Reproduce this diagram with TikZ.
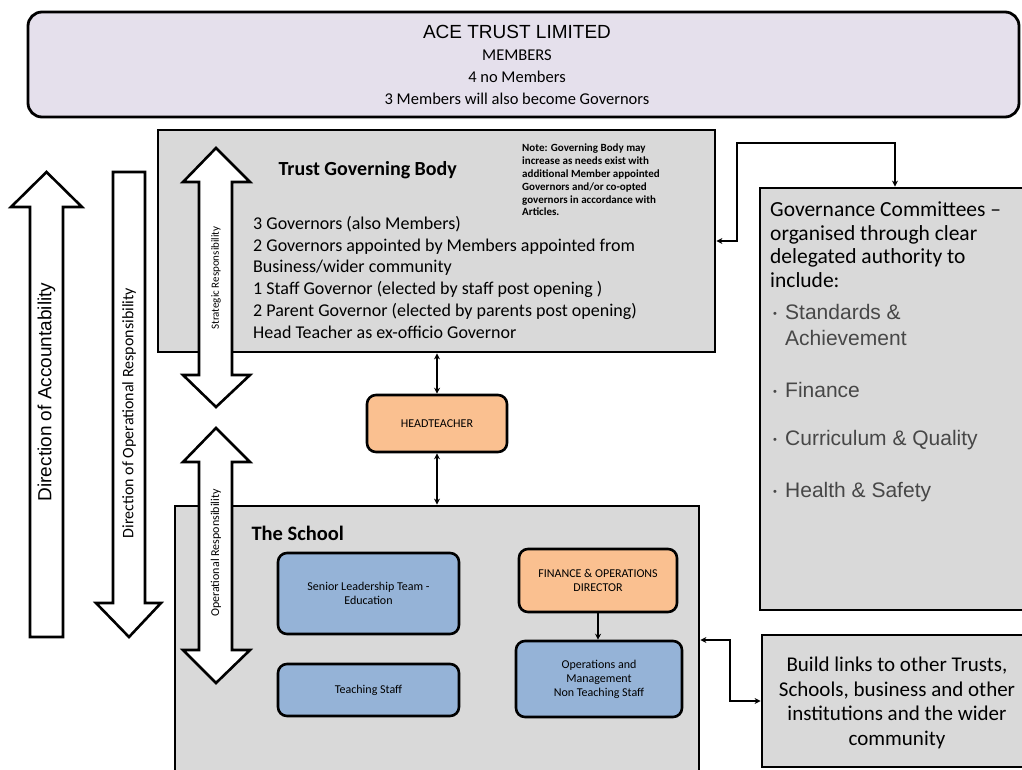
\documentclass[tikz,border=0pt]{standalone}
\usepackage{fontspec}
\setmainfont{Carlito}
\newfontfamily\arialfont{Liberation Sans}
\usetikzlibrary{arrows.meta,fit,positioning}
\definecolor{boxgray}{HTML}{D9D9D9}
\definecolor{lilac}{HTML}{E5E0EC}
\definecolor{peach}{HTML}{FAC090}
\definecolor{paleblue}{HTML}{95B3D7}
\newcommand{\fsz}[2]{\fontsize{#1}{#2}\selectfont}
\tikzset{
	panel/.style={draw, line width=2.8pt, fill=boxgray, inner sep=0pt},
	card/.style={draw, line width=2.6pt, rounded corners=9pt, align=center, font=\fsz{12}{14}},
	bigarrow/.style={draw, line width=2.6pt, fill=white, line join=miter},
	bulletline/.style={anchor=west, inner sep=0pt, font=\arialfont\fsz{21}{26}, text=black!72},
	link/.style={line width=1.6pt, {Stealth[length=6pt,width=6pt]}-{Stealth[length=6pt,width=6pt]}}
}

\begin{document}
\begin{tikzpicture}[x=1pt, y=-1pt]
        \useasboundingbox (0,0) rectangle (1022,769);
        \node[draw, line width=2.8pt, fill=lilac, rounded corners=14pt, inner sep=0pt, fit={(28,12) (1019,117)}] (members) {};
        \node[align=center, font=\fsz{16.5}{22}] (memtxt) at (517,65) {{\arialfont\fsz{19}{22}ACE TRUST LIMITED}\\MEMBERS\\4 no Members\\3 Members will also become Governors};
        \node[panel, fit={(158,130) (715,352)}] (tgb) {};
        \node[anchor=west, font=\bfseries\fsz{20}{24}] (tgbtitle) at (275,170) {Trust Governing Body};
        \node[anchor=north west, inner sep=0pt, align=left, font=\bfseries\fsz{11}{12.8}] (note) at (522,144) {Note: Governing Body may\\increase as needs exist with\\additional Member appointed\\Governors and/or co-opted\\governors in accordance with\\Articles.};
        \node[anchor=north west, inner sep=0pt, align=left, font=\fsz{18}{21.8}] (tgbtxt) at (253,216) {3 Governors (also Members)\\2 Governors appointed by Members appointed from\\Business/wider community\\1 Staff Governor (elected by staff post opening )\\2 Parent Governor (elected by parents post opening)\\Head Teacher as ex-officio Governor};
        \node[panel, fit={(760,188) (1030,610)}] (gov) {};
        \node[anchor=north west, inner sep=0pt, align=left, font=\fsz{21.5}{23.5}] (govtxt) at (770,202) {Governance Committees –\\organised through clear\\delegated authority to\\include:};
        \node[bulletline] (bstd) at (773,312) {\makebox[12pt][l]{\raisebox{2pt}{\fsz{11}{11}•}}Standards \&};
        \node[bulletline] (bach) at (785,338) {Achievement};
        \node[bulletline] (bfin) at (773,390) {\makebox[12pt][l]{\raisebox{2pt}{\fsz{11}{11}•}}Finance};
        \node[bulletline] (bcur) at (773,440) {\makebox[12pt][l]{\raisebox{2pt}{\fsz{11}{11}•}}Curriculum \& Quality};
        \node[bulletline] (bhs) at (773,492) {\makebox[12pt][l]{\raisebox{2pt}{\fsz{11}{11}•}}Health \& Safety};
        \node[panel, fit={(762,635) (1030,767)}] (links) {};
        \node[align=center, font=\fsz{21}{24.5}] (linkstxt) at (897,703) {Build links to other Trusts,\\Schools, business and other\\institutions and the wider\\community};
        \node[card, fill=peach, minimum width=140pt, minimum height=57pt] (ht) at (437,423.5) {HEADTEACHER};
        \node[panel, fit={(175,506) (699,790)}] (school) {};
        \node[anchor=west, font=\bfseries\fsz{20.5}{24}] (schooltitle) at (248,533) {The School};
        \node[card, fill=paleblue, minimum width=181pt, minimum height=81pt] (slt) at (368.5,593.5) {Senior Leadership Team -\\Education};
        \node[card, fill=paleblue, minimum width=181pt, minimum height=52pt] (teach) at (368.5,690) {Teaching Staff};
        \node[card, fill=peach, minimum width=158pt, minimum height=63pt] (fod) at (598,580.5) {FINANCE \& OPERATIONS\\DIRECTOR};
        \node[card, fill=paleblue, minimum width=166pt, minimum height=76pt] (ops) at (599,679) {Operations and\\Management\\Non Teaching Staff};
        \coordinate (gk) at (737,143);
        \coordinate (sk) at (730,640);
        \draw[link] (tgb.east) -- (tgb.east -| gk) -- (gk) -| (gov.north);
        \draw[link] (ht.north |- tgb.south) -- (ht.north);
        \draw[link] (ht.south) -- (ht.south |- school.north);
        \draw[line width=1.6pt, -{Stealth[length=6pt,width=6pt]}] (fod.south) -- (fod.south |- ops.north);
        \draw[link] (school.east |- sk) -- (sk) |- (links.west);
        \draw[bigarrow] (46.5,172) -- (82,207) -- (63,207) -- (63,637) -- (30,637) -- (30,207) -- (11,207) -- cycle;
        \node[rotate=90, font=\arialfont\fsz{19}{22}] (acc) at (46.5,392) {Direction of Accountability};
        \draw[bigarrow] (113,172) -- (145,172) -- (145,603) -- (161,603) -- (129,637) -- (96,603) -- (113,603) -- cycle;
        \node[rotate=90, font=\fsz{16}{19}] (opr) at (129,413) {Direction of Operational Responsibility};
        \draw[bigarrow] (216,148) -- (250,182) -- (232,182) -- (232,375) -- (250,375) -- (216,407) -- (183,375) -- (199,375) -- (199,182) -- (183,182) -- cycle;
        \node[rotate=90, font=\fsz{11}{13}] (strat) at (216,278) {Strategic Responsibility};
        \draw[bigarrow] (216,428) -- (250,462) -- (232,462) -- (232,650) -- (250,650) -- (216,683) -- (183,650) -- (199,650) -- (199,462) -- (183,462) -- cycle;
        \node[rotate=90, font=\fsz{12}{14}] (oper) at (216,553) {Operational Responsibility};
    \end{tikzpicture}
\end{document}
